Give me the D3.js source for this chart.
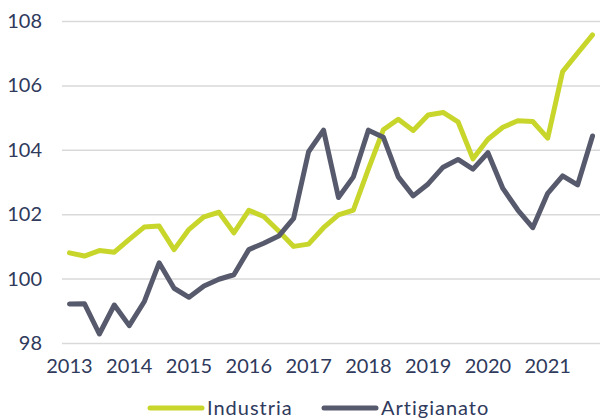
<!DOCTYPE html>
<html>
<head>
<meta charset="utf-8">
<script src="https://cdn.jsdelivr.net/npm/d3@7"></script>
<style>
  body { margin: 0; background: #fff; }
  svg text { font-family: "Lato", "DejaVu Sans", sans-serif; fill: #2f3a5c; }
</style>
</head>
<body>
<svg width="600" height="419"></svg>
<script>
// quarterly data, 2013 Q1 .. 2021 Q4
var years = ["2013", "2014", "2015", "2016", "2017", "2018", "2019", "2020", "2021"];
var quarters = [];
years.forEach(function (y) {
  for (var q = 1; q <= 4; q++) quarters.push(y + "Q" + q);
});

var industria = [
  100.80, 100.70, 100.87, 100.82, 101.22, 101.60, 101.63, 100.90,
  101.53, 101.92, 102.06, 101.42, 102.12, 101.93, 101.48, 101.00,
  101.07, 101.58, 101.98, 102.13, 103.40, 104.62, 104.95, 104.60,
  105.08, 105.16, 104.87, 103.72, 104.33, 104.70, 104.90, 104.88,
  104.36, 106.43, 107.00, 107.57
];

var artigianato = [
  99.21, 99.22, 98.28, 99.18, 98.54, 99.28, 100.49, 99.70,
  99.42, 99.77, 99.98, 100.12, 100.90, 101.10, 101.32, 101.87,
  103.94, 104.61, 102.52, 103.16, 104.61, 104.39, 103.16, 102.57,
  102.94, 103.46, 103.70, 103.40, 103.91, 102.80, 102.13, 101.58,
  102.65, 103.19, 102.91, 104.43
];

var yTicks = [98, 100, 102, 104, 106, 108];

var svg = d3.select("svg");
var margin = { left: 62, right: 0, top: 21, bottom: 76 };
var width = 600, height = 419;

var x = d3.scaleBand()
  .domain(quarters)
  .range([margin.left, width - margin.right]);

var y = d3.scaleLinear()
  .domain([98, 108])
  .range([height - margin.bottom, margin.top]);

// gridlines + y labels
var yAxis = svg.append("g")
  .attr("transform", "translate(" + margin.left + ",0)")
  .call(d3.axisLeft(y).tickValues(yTicks).tickSize(-(width - margin.left - margin.right)).tickPadding(20).tickFormat(d3.format("d")));
yAxis.select(".domain").remove();
yAxis.selectAll("line").attr("stroke", "#d9d9d9").attr("stroke-width", 1.5);
yAxis.selectAll("text").attr("font-size", 20).attr("fill", "#2f3a5c")
  .attr("font-family", "Lato, 'DejaVu Sans', sans-serif");

// x labels at Q1 of each year
var xAxis = svg.append("g")
  .attr("transform", "translate(0," + (height - margin.bottom) + ")")
  .call(d3.axisBottom(x).tickValues(quarters.filter(function (d) { return /Q1$/.test(d); }))
    .tickSize(0).tickPadding(16).tickFormat(function (d) { return d.slice(0, 4); }));
xAxis.select(".domain").remove();
xAxis.selectAll("text").attr("font-size", 20).attr("fill", "#2f3a5c")
  .attr("font-family", "Lato, 'DejaVu Sans', sans-serif");

var line = d3.line()
  .x(function (d, i) { return x(quarters[i]) + x.bandwidth() / 2; })
  .y(function (d) { return y(d); });

var series = [
  { name: "Industria", values: industria, color: "#c8d62b" },
  { name: "Artigianato", values: artigianato, color: "#575a6c" }
];

series.forEach(function (s) {
  svg.append("path")
    .datum(s.values)
    .attr("fill", "none")
    .attr("stroke", s.color)
    .attr("stroke-width", 5)
    .attr("stroke-linejoin", "round")
    .attr("stroke-linecap", "round")
    .attr("d", line);
});

// legend
var legendX = [150, 324];
var legend = svg.append("g").attr("transform", "translate(0,408)");
series.forEach(function (s, i) {
  legend.append("line")
    .attr("x1", legendX[i]).attr("x2", legendX[i] + 52)
    .attr("y1", 0).attr("y2", 0)
    .attr("stroke", s.color).attr("stroke-width", 5)
    .attr("stroke-linecap", "round");
  legend.append("text")
    .attr("x", legendX[i] + 57)
    .attr("y", 7)
    .attr("font-size", 20)
    .attr("letter-spacing", 1)
    .text(s.name);
});
</script>
</body>
</html>
